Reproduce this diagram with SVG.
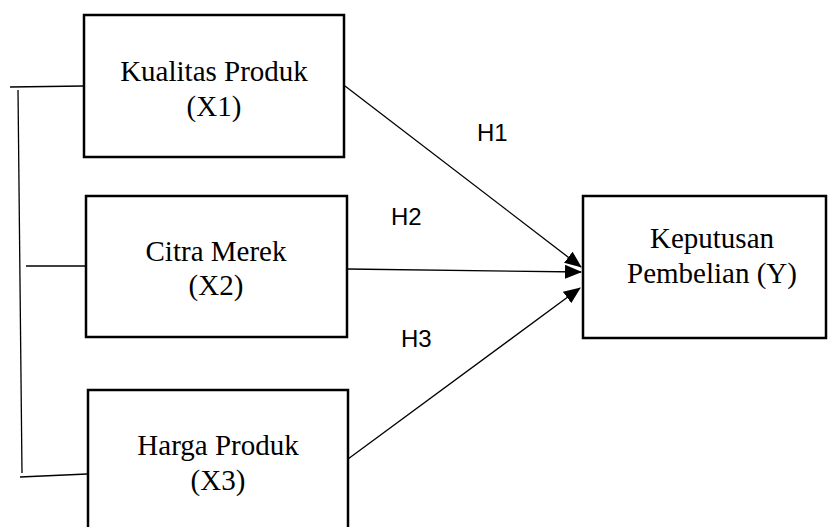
<svg xmlns="http://www.w3.org/2000/svg" width="828" height="527" viewBox="0 0 828 527">
  <style>
    .box { fill: #ffffff; stroke: #000000; stroke-width: 2.5; }
    .lbl { font-family: "Liberation Serif", "Times New Roman", serif; font-size: 29px; fill: #000000; text-anchor: middle; }
    .hyp { font-family: "Liberation Sans", Arial, sans-serif; font-size: 24px; fill: #000000; }
    .line { stroke: #000000; stroke-width: 1.3; fill: none; }
    .arrow { stroke: #000000; stroke-width: 1.3; fill: none; marker-end: url(#ah); }
  </style>
  <defs>
    <marker id="ah" markerWidth="17" markerHeight="14" refX="16" refY="7" orient="auto" markerUnits="userSpaceOnUse">
      <path d="M0,0 L17,7 L0,14 Z" fill="#000000"/>
    </marker>
  </defs>
  <rect width="828" height="527" fill="#ffffff"/>

  <g id="connectors">
    <path class="line" d="M10,87 L84,86"/>
    <path class="line" d="M18,90 L22,473"/>
    <path class="line" d="M26,266 L86,266"/>
    <path class="line" d="M20,477 L87,474"/>
    <path class="arrow" d="M345,86 L581,267"/>
    <path class="arrow" d="M347,269 L581,272"/>
    <path class="arrow" d="M348,459 L580,288"/>
    <text class="hyp" x="477" y="141">H1</text>
    <text class="hyp" x="391" y="225">H2</text>
    <text class="hyp" x="401" y="347">H3</text>
  </g>

  <g id="x1">
    <rect class="box" x="84" y="15" width="260" height="142"/>
    <text class="lbl" x="214" y="81">Kualitas Produk</text>
    <text class="lbl" x="214" y="116">(X1)</text>
  </g>
  <g id="x2">
    <rect class="box" x="86" y="196" width="261" height="141"/>
    <text class="lbl" x="216" y="261">Citra Merek</text>
    <text class="lbl" x="216" y="295">(X2)</text>
  </g>
  <g id="x3">
    <rect class="box" x="88" y="390" width="260" height="150"/>
    <text class="lbl" x="218" y="455">Harga Produk</text>
    <text class="lbl" x="218" y="490">(X3)</text>
  </g>
  <g id="y">
    <rect class="box" x="583" y="196" width="243" height="142"/>
    <text class="lbl" x="712" y="248">Keputusan</text>
    <text class="lbl" x="712" y="283">Pembelian (Y)</text>
  </g>
</svg>
